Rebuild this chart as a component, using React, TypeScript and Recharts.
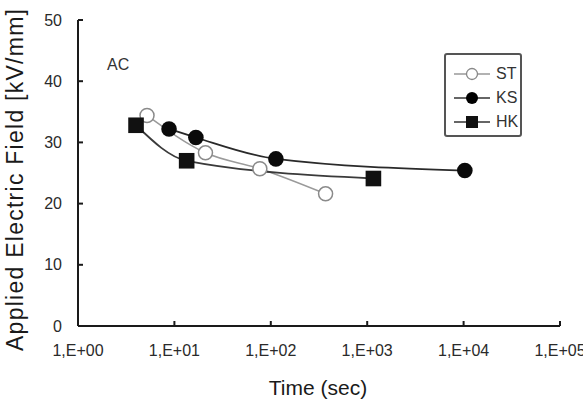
import { LineChart, Line, XAxis, YAxis, Legend, Label } from "recharts";

// breakdown time vs applied field
const stTime = [5.2, 21, 77, 370];
const stField = [34.4, 28.3, 25.7, 21.6];
const ksTime = [8.8, 16.7, 113, 10300];
const ksField = [32.2, 30.8, 27.3, 25.4];
const hkTime = [4.0, 13.4, 1160];
const hkField = [32.8, 27.0, 24.1];

const xTicks = [1, 10, 100, 1000, 10000, 100000];
const yTicks = [0, 10, 20, 30, 40, 50];
const seriesNames = ["ST", "KS", "HK"];

const FONT = "'Liberation Sans', Arial, sans-serif";

const zip = (t: number[], f: number[]) => t.map((time, i) => ({ time, field: f[i] }));

const stData = zip(stTime, stField);
const ksData = zip(ksTime, ksField);
const hkData = zip(hkTime, hkField);

const fmtExp = (v: number) => "1,E+" + String(Math.round(Math.log10(v))).padStart(2, "0");

const OpenDot = (p: any) => (
    <circle key={`st-${p.index}`} cx={p.cx} cy={p.cy} r={7} fill="#fff" stroke="#8a8a8a" strokeWidth={1.5} />
);
const FilledDot = (p: any) => (
    <circle key={`ks-${p.index}`} cx={p.cx} cy={p.cy} r={7.8} fill="#0a0a0a" stroke="none" />
);
const SquareDot = (p: any) => (
    <rect key={`hk-${p.index}`} x={p.cx - 7.8} y={p.cy - 7.8} width={15.6} height={15.6} fill="#111" />
);

function LegendBox() {
    const marker = (name: string) => {
        if (name === "ST") return <circle cx={22} cy={10} r={5.5} fill="#fff" stroke="#888" strokeWidth={1.3} />;
        if (name === "KS") return <circle cx={22} cy={10} r={6} fill="#000" />;
        return <rect x={16} y={4} width={12} height={12} fill="#111" />;
    };
    const lineColor: Record<string, string> = { ST: "#999", KS: "#333", HK: "#333" };
    return (
        <div
            style={{
                width: 78,
                height: 84,
                boxSizing: "border-box",
                border: "2px solid #555",
                borderRadius: 3,
                background: "#fff",
                paddingTop: 7,
                fontFamily: FONT,
            }}
        >
            {seriesNames.map((n) => (
                <div key={n} style={{ display: "flex", alignItems: "center", height: 24 }}>
                    <svg width={46} height={20} style={{ marginLeft: 4 }}>
                        <line x1={4} x2={40} y1={10} y2={10} stroke={lineColor[n]} strokeWidth={1.5} />
                        {marker(n)}
                    </svg>
                    <span style={{ fontSize: 16, color: "#333" }}>{n}</span>
                </div>
            ))}
        </div>
    );
}

export default function App() {
    return (
        <div style={{ position: "absolute", left: 0, top: 0, width: 583, height: 408, background: "#fff" }}>
            <LineChart width={583} height={408} margin={{ top: 20, right: 23, bottom: 0, left: 0 }}>
                <XAxis
                    dataKey="time"
                    type="number"
                    scale="log"
                    domain={[1, 100000]}
                    ticks={xTicks}
                    interval={0}
                    tickFormatter={fmtExp}
                    height={82}
                    allowDuplicatedCategory={false}
                    axisLine={{ stroke: "#1a1a1a", strokeWidth: 2 }}
                    tickLine={{ stroke: "#1a1a1a", strokeWidth: 2 }}
                    tickSize={-5}
                    tickMargin={24}
                    tick={{ fontSize: 16, fill: "#2a2a2a", fontFamily: FONT }}
                >
                    <Label
                        content={() => (
                            <text x={318} y={395} textAnchor="middle" fontSize={21} fill="#1a1a1a" fontFamily={FONT}>
                                Time (sec)
                            </text>
                        )}
                    />
                </XAxis>
                <XAxis
                    xAxisId="top"
                    orientation="top"
                    type="number"
                    scale="log"
                    domain={[1, 100000]}
                    height={0}
                    tick={false}
                    tickLine={false}
                    axisLine={{ stroke: "#1a1a1a", strokeWidth: 2 }}
                />
                <YAxis
                    type="number"
                    domain={[0, 50]}
                    ticks={yTicks}
                    interval={0}
                    width={78}
                    axisLine={{ stroke: "#1a1a1a", strokeWidth: 2 }}
                    tickLine={{ stroke: "#1a1a1a", strokeWidth: 2 }}
                    tickSize={-5}
                    tickMargin={21}
                    tick={{ fontSize: 16, fill: "#2a2a2a", fontFamily: FONT }}
                >
                    <Label
                        content={() => (
                            <text
                                x={23}
                                y={180}
                                transform="rotate(-90 23 180)"
                                textAnchor="middle"
                                fontSize={23}
                                fill="#1a1a1a"
                                fontFamily={FONT}
                                textLength={342}
                                lengthAdjust="spacing"
                            >
                                Applied Electric Field [kV/mm]
                            </text>
                        )}
                    />
                </YAxis>
                <YAxis
                    yAxisId="right"
                    orientation="right"
                    type="number"
                    domain={[0, 50]}
                    width={0}
                    tick={false}
                    tickLine={false}
                    axisLine={{ stroke: "#1a1a1a", strokeWidth: 2 }}
                />
                <Legend
                    layout="vertical"
                    align="center"
                    verticalAlign="middle"
                    content={() => <LegendBox />}
                    wrapperStyle={{ left: 444, top: 53, width: 78, height: 84 }}
                />
                <Line
                    name="ST"
                    data={stData}
                    dataKey="field"
                    type="monotone"
                    stroke="#9a9a9a"
                    strokeWidth={1.5}
                    dot={OpenDot}
                    isAnimationActive={false}
                />
                <Line
                    name="HK"
                    data={hkData}
                    dataKey="field"
                    type="monotone"
                    stroke="#3a3a3a"
                    strokeWidth={1.8}
                    dot={SquareDot}
                    isAnimationActive={false}
                />
                <Line
                    name="KS"
                    data={ksData}
                    dataKey="field"
                    type="monotone"
                    stroke="#2a2a2a"
                    strokeWidth={1.8}
                    dot={FilledDot}
                    isAnimationActive={false}
                />
            </LineChart>
            <div
                style={{
                    position: "absolute",
                    left: 107,
                    top: 56,
                    fontSize: 16,
                    color: "#333",
                    fontFamily: FONT,
                }}
            >
                AC
            </div>
        </div>
    );
}
